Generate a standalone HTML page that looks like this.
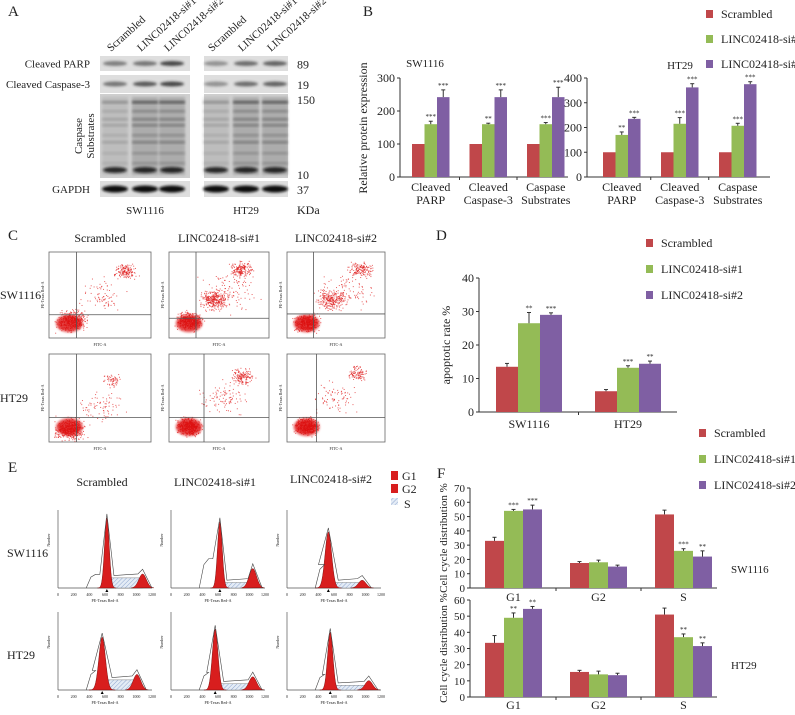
<!DOCTYPE html>
<html><head><meta charset="utf-8">
<style>
html,body{margin:0;padding:0;background:#fff;}
svg, svg text{font-family:"Liberation Serif","Times New Roman",serif;}
</style></head>
<body>
<svg id="fig" width="795" height="710" viewBox="0 0 795 710" xmlns="http://www.w3.org/2000/svg">
<defs>
<filter id="b1" x="-20%" y="-50%" width="140%" height="200%"><feGaussianBlur stdDeviation="1.2"/></filter>
<filter id="b2" x="-20%" y="-20%" width="140%" height="140%"><feGaussianBlur stdDeviation="3"/></filter>
<pattern id="hatch" width="3" height="3" patternUnits="userSpaceOnUse" patternTransform="rotate(45)"><rect width="3" height="3" fill="#e4ecf6"/><line x1="0" y1="0" x2="0" y2="3" stroke="#8fa6cf" stroke-width="1"/></pattern>
</defs>
<g id="layer"></g>
</svg>
<script>
// ---------- chart data ----------
const seriesNames = ["Scrambled","LINC02418-si#1","LINC02418-si#2"];
const colors = ["#c0474a","#94bb56","#7f5fa3"];

const bCats = [["Cleaved","PARP"],["Cleaved","Caspase-3"],["Caspase","Substrates"]];
const bSwScr = [100,100,100];
const bSwSi1 = [160,160,160];
const bSwSi2 = [242,242,242];
const bSwErr1 = [9,3,5];
const bSwErr2 = [22,22,30];
const bHtScr = [100,100,100];
const bHtSi1 = [170,215,207];
const bHtSi2 = [235,362,375];
const bHtErr1 = [12,25,10];
const bHtErr2 = [6,15,10];
const bSwTicks = [0,100,200,300];
const bHtTicks = [0,100,200,300,400];

const dCats = [["SW1116"],["HT29"]];
const dScr = [13.5,6.2];
const dSi1 = [26.5,13.2];
const dSi2 = [29.0,14.4];
const dErr0 = [1.0,0.5];
const dErr1 = [3.2,0.6];
const dErr2 = [0.6,0.8];
const dTicks = [0,10,20,30,40];

const fCats = [["G1"],["G2"],["S"]];
const fSwScr = [33,17.5,51.5];
const fSwSi1 = [54,18,26];
const fSwSi2 = [55,15,22];
const fSwErr = [[2.5,1,3],[1,1.5,1.5],[3,1,4]];
const fHtScr = [33.5,15.5,51];
const fHtSi1 = [49,14,37];
const fHtSi2 = [54.5,13.5,31.5];
const fHtErr = [[4.5,1,4],[3,2,2],[1.5,1.2,2]];
const fSwTicks = [0,10,20,30,40,50,60,70];
const fHtTicks = [0,10,20,30,40,50,60];

const NS="http://www.w3.org/2000/svg";
const L=document.getElementById('layer');
function el(tag,attrs,parent){const e=document.createElementNS(NS,tag);for(const k in attrs)e.setAttribute(k,attrs[k]);(parent||L).appendChild(e);return e;}
function txt(x,y,s,size,anchor,parent,extra){const t=el('text',Object.assign({x:x,y:y,'font-size':size,'text-anchor':anchor||'start',fill:'#222','font-family':'Liberation Serif, serif'},extra||{}),parent);t.textContent=s;return t;}

function barChart(o){
  const g=el('g',{});
  
  
  const yS=v=>o.base-(v/o.max)*(o.base-o.topY);
  el('line',{x1:o.x0,y1:o.topY,x2:o.x0,y2:o.base,stroke:'#333','stroke-width':1},g);
  el('line',{x1:o.x0,y1:o.base,x2:o.xEnd,y2:o.base,stroke:'#333','stroke-width':1},g);
  o.ticks.forEach(t=>{
    el('line',{x1:o.x0-3,y1:yS(t),x2:o.x0,y2:yS(t),stroke:'#333'},g);
    const tl=txt(o.x0-5,yS(t)+4,String(t),o.tickSize||12,'end',g);
    
    
  });
  o.series.forEach((vals,si)=>{
    vals.forEach((v,ci)=>{
      const x=o.first+ci*o.gap+si*o.barW;
      const r=el('rect',{x:x,y:yS(v),width:o.barW,height:o.base-yS(v),fill:colors[si]},g);
      
      
      const e=o.errs[si][ci];
      if(e){const cx=x+o.barW/2;
        el('line',{x1:cx,y1:yS(v),x2:cx,y2:yS(v+e),stroke:'#333'},g);
        el('line',{x1:cx-2,y1:yS(v+e),x2:cx+2,y2:yS(v+e),stroke:'#333'},g);
        if(si>0&&o.stars){txt(cx,yS(v+e)-2,o.stars[si-1][ci],7,'middle',g);}
      }
    });
  });
  o.cats.forEach((c,ci)=>{
    const cx=o.first+ci*o.gap+o.barW*1.5;
    if(ci>0) el('line',{x1:o.first+ci*o.gap-(o.gap-3*o.barW)/2,y1:o.base,x2:o.first+ci*o.gap-(o.gap-3*o.barW)/2,y2:o.base+3,stroke:'#333'},g);
    c.forEach((line,li)=>{const t=txt(cx,o.catY+li*13,line,o.catSize||12,'middle',g);
      });
  });
  return g;
}
function legend(x,y,gap,name){
  const g=el('g',{});
  
  
  seriesNames.forEach((n,i)=>{
    const r=el('rect',{x:x,y:y+i*gap-5,width:7,height:8,fill:colors[i]},g);
    
    const t=txt(x+15,y+i*gap+3,n,12,'start',g);
    
  });
}

// ---------- panel letters ----------
[["A",8,16],["B",363,16],["C",8,240],["D",436,240],["E",8,472],["F",437,478]].forEach(p=>{
  const t=txt(p[1],p[2],p[0],15,'start');});

// ---------- panel A: western blots ----------
(function(){
  const g=el('g',{});
  const blocks=[{x:100,w:90,lanes:[115,145,172]},{x:204,w:84,lanes:[216,246,275]}];
  const rows=[{y:56,h:15,name:'Cleaved PARP',kd:'89'},{y:75,h:18,name:'Cleaved Caspase-3',kd:'19'},{y:94,h:84,name:'',kd:''},{y:181,h:16,name:'GAPDH',kd:'37'}];
  const heads=['Scrambled','LINC02418-si#1','LINC02418-si#2'];
  blocks.forEach((b,bi)=>{
    b.lanes.forEach((lx,li)=>{const t=txt(lx-4,52,heads[li],11,'start',g,{transform:'rotate(-42 '+(lx-4)+' 52)'});
      });
    rows.forEach((r,ri)=>{
      el('rect',{x:b.x,y:r.y,width:b.w,height:r.h,fill:ri==2?'#cfcfcf':'#dedede'},g);
      const intens=[[0.5,0.55,0.8],[0.55,0.7,0.8],null,[1,1,1]];
      if(ri==0||ri==1){b.lanes.forEach((lx,li)=>{const k=bi==1?[0.4,0.6,0.65][li]:intens[ri][li];
        el('ellipse',{cx:lx,cy:r.y+r.h/2,rx:12,ry:2.5,fill:'#222',opacity:k,filter:'url(#b1)'},g);});}
      if(ri==3){b.lanes.forEach(lx=>el('ellipse',{cx:lx,cy:r.y+r.h/2,rx:13,ry:3.5,fill:'#111',filter:'url(#b1)'},g));}
      if(ri==2){
        b.lanes.forEach((lx,li)=>{
          const d=li==0?0.35:0.7;
          el('rect',{x:lx-13,y:r.y+3,width:26,height:r.h-6,fill:'#777',opacity:d*0.55,filter:'url(#b1)'},g);
          [[7,0.9],[16,0.4],[24,0.5],[30,0.5],[40,0.35],[47,0.5],[58,0.3],[68,0.3]].forEach(s=>
            el('rect',{x:lx-13,y:r.y+s[0],width:26,height:2.5,fill:'#222',opacity:s[1]*d,filter:'url(#b1)'},g));
          el('ellipse',{cx:lx,cy:r.y+76,rx:12,ry:3,fill:'#111',opacity:0.85,filter:'url(#b1)'},g);
        });
      }
      if(bi==0&&r.name){const t=txt(90,r.y+r.h/2+4,r.name,11,'end',g);}
      if(bi==1&&r.kd){const t=txt(297,r.y+r.h/2+5,r.kd,12,'start',g);}
    });
  });
  txt(297,104,'150',12,'start',g);txt(297,179,'10',12,'start',g);
  txt(82,136,'Caspase',11,'middle',g,{transform:'rotate(-90 82 136)'});
  txt(94,136,'Substrates',11,'middle',g,{transform:'rotate(-90 94 136)'});
  txt(145,214,'SW1116',11,'middle',g);txt(246,214,'HT29',11,'middle',g);txt(297,214,'KDa',12,'start',g);
})();

// ---------- panel B ----------
legend(706,15,25,'legend-b');
txt(367,128,'Relative protein expression',12,'middle',null,{transform:'rotate(-90 367 128)'});
txt(425,67,'SW1116',11,'middle');txt(680,69,'HT29',11,'middle');
barChart({name:'chart-b-sw1116',x0:400,xEnd:568,base:177,topY:78,max:300,ticks:bSwTicks,first:412,gap:57.5,barW:12.5,
  series:[bSwScr,bSwSi1,bSwSi2],errs:[[0,0,0],bSwErr1,bSwErr2],cats:bCats,catY:191,
  stars:[['***','**','***'],['***','***','***']]});
barChart({name:'chart-b-ht29',x0:587,xEnd:770,base:177,topY:78,max:400,ticks:bHtTicks,first:603,gap:58,barW:12.5,
  series:[bHtScr,bHtSi1,bHtSi2],errs:[[0,0,0],bHtErr1,bHtErr2],cats:bCats,catY:191,
  stars:[['**','***','***'],['***','***','***']]});

// ---------- panel C: flow cytometry ----------
(function(){
  let seed=7;function rnd(){seed=(seed*16807)%2147483647;return seed/2147483647;}
  function gauss(){return (rnd()+rnd()+rnd()-1.5)/1.5;}
  const cols=[{x:49,w:102,t:'Scrambled'},{x:169,w:100,t:'LINC02418-si#1'},{x:287,w:98,t:'LINC02418-si#2'}];
  const rowsY=[{y:252,h:86,n:'SW1116'},{y:354,h:88,n:'HT29'}];
  const clusters=[[[0.22,0.8,1.6,400],[0.75,0.22,1.2,150],[0.5,0.5,2.5,80]],
                  [[0.2,0.8,1.4,400],[0.45,0.55,1.6,300],[0.72,0.2,1.3,180],[0.6,0.45,3,100]],
                  [[0.2,0.82,1.4,400],[0.45,0.55,1.6,250],[0.75,0.2,1.3,150],[0.6,0.45,3,100]],
                  [[0.2,0.85,1.6,450],[0.62,0.3,1,60],[0.5,0.6,2.5,80]],
                  [[0.2,0.82,1.3,450],[0.73,0.25,1.2,150],[0.55,0.5,2.5,100]],
                  [[0.2,0.82,1.3,450],[0.72,0.22,1.1,100],[0.5,0.5,2.5,80]]];
  const qx=[0.27,0.27,0.27,0.27,0.35,0.3];const qy=[0.73,0.77,0.72,0.72,0.72,0.72];
  cols.forEach((c,ci)=>{const t=txt(c.x+c.w/2,242,c.t,12,'middle');});
  rowsY.forEach((r,ri)=>{
    const t=txt(0,r.y+r.h/2+4,r.n,12,'start');
    cols.forEach((c,ci)=>{
      const k=ri*3+ci;
      const g=el('g',{});
      el('rect',{x:c.x,y:r.y,width:c.w,height:r.h,fill:'#fff',stroke:'#666','stroke-width':0.8},g);
      clusters[k].forEach(cl=>{
        for(let i=0;i<cl[3];i++){
          const px=c.x+c.w*Math.min(0.99,Math.max(0.01,cl[0]+gauss()*0.12*cl[2]));
          const py=r.y+r.h*Math.min(0.99,Math.max(0.01,cl[1]-gauss()*0.1*cl[2]));
          el('rect',{x:px,y:py,width:1,height:1,fill:'#e02020',opacity:0.7},g);
        }
      });
      el('ellipse',{cx:c.x+c.w*0.2,cy:r.y+r.h*0.83,rx:c.w*0.13,ry:r.h*0.1,fill:'#dd1111',opacity:0.8,filter:'url(#b1)'},g);
      el('line',{x1:c.x+c.w*qx[k],y1:r.y,x2:c.x+c.w*qx[k],y2:r.y+r.h,stroke:'#555','stroke-width':0.8},g);
      el('line',{x1:c.x,y1:r.y+r.h*qy[k],x2:c.x+c.w,y2:r.y+r.h*qy[k],stroke:'#555','stroke-width':0.8},g);
      txt(c.x+c.w/2,r.y+r.h+8,'FITC-A',4,'middle',g);
      txt(c.x-5,r.y+r.h/2,'PE-Texas Red-A',4,'middle',g,{transform:'rotate(-90 '+(c.x-5)+' '+(r.y+r.h/2)+')'});
    });
  });
})();

// ---------- panel D ----------
legend(646,244,26,'legend-d');
txt(450,345,'apoptotic rate %',12,'middle',null,{transform:'rotate(-90 450 345)'});
barChart({name:'chart-d',x0:479,xEnd:677,base:412,topY:278,max:40,ticks:dTicks,first:496,gap:99,barW:22,
  series:[dScr,dSi1,dSi2],errs:[dErr0,dErr1,dErr2],cats:dCats,catY:428,
  stars:[['**','***'],['***','**']]});

// ---------- panel E: cell cycle histograms ----------
(function(){
  const cols=[{x:58,t:'Scrambled'},{x:171,t:'LINC02418-si#1'},{x:287,t:'LINC02418-si#2'}];
  const rowsY=[{y:510,n:'SW1116'},{y:612,n:'HT29'}];
  const prm=[[0.52,0.9,0.025,0.9,0.18,0.13,0.35],[0.52,0.85,0.025,0.87,0.25,0.07,0.75],[0.44,0.72,0.035,0.8,0.1,0.07,0.6],
             [0.47,0.68,0.035,0.84,0.2,0.13,0.5],[0.47,0.78,0.03,0.87,0.17,0.08,0.45],[0.46,0.74,0.028,0.87,0.12,0.06,0.4]];
  cols.forEach(c=>{const t=txt(c.x+44,c.x==287?483:486,c.t,12,'middle');});
  rowsY.forEach((r,ri)=>{
    const t=txt(7,r.y+47,r.n,12,'start');
    cols.forEach((c,ci)=>{
      const p=prm[ri*3+ci];const W=94,H=78,bx=c.x,by=r.y+H;
      const g=el('g',{});
      el('line',{x1:bx,y1:r.y,x2:bx,y2:by,stroke:'#555','stroke-width':0.7},g);
      el('line',{x1:bx,y1:by,x2:bx+W,y2:by,stroke:'#555','stroke-width':0.7},g);
      const X=f=>bx+f*W,Y=v=>by-v*H;
      el('path',{d:`M${X(p[0])} ${Y(0)} L${X(p[0]+0.02)} ${Y(p[5])} L${X(p[3]-0.03)} ${Y(p[5])} L${X(p[3])} ${Y(0)} Z`,fill:'url(#hatch)',stroke:'#666','stroke-width':0.4},g);
      let d=`M${X(p[0]-4*p[2])} ${Y(0)}`;for(let i=-4;i<=4;i+=0.25){d+=` L${X(p[0]+i*p[2])} ${Y(p[1]*Math.exp(-i*i/2))}`;}
      el('path',{d:d+' Z',fill:'#d81e1e',stroke:'#600','stroke-width':0.4},g);
      d=`M${X(p[3]-0.12)} ${Y(0)}`;for(let i=-3;i<=3;i+=0.25){d+=` L${X(p[3]+i*0.04)} ${Y(p[4]*Math.exp(-i*i/2))}`;}
      el('path',{d:d+' Z',fill:'#d81e1e',stroke:'#600','stroke-width':0.4},g);
      d=`M${X(0.3)} ${Y(0)} L${X(0.35)} ${Y(p[6]*0.4)} L${X(0.4)} ${Y(p[6]*0.5)} L${X(p[0]-3*p[2])} ${Y(p[6]*0.5)} L${X(p[0])} ${Y(p[1]+0.05)} L${X(p[0]+3*p[2])} ${Y(p[5]+0.03)} L${X(p[3]-0.05)} ${Y(p[5]+0.05)} L${X(p[3])} ${Y(p[4]+0.06)} L${X(p[3]+0.1)} ${Y(0)}`;
      el('path',{d:d,fill:'none',stroke:'#444','stroke-width':0.6},g);
      el('path',{d:`M${X(p[0])} ${by+1} l-1.5 3 l3 0 Z`,fill:'#000'},g);
      [0,200,400,600,800,1000,1200].forEach((v,i)=>txt(bx+i*W/6,by+8,String(v),4,'middle',g));
      txt(bx+W/2,by+14,'PE-Texas Red-A',4,'middle',g);
      txt(bx-8,r.y+30,'Number',4,'middle',g,{transform:'rotate(-90 '+(bx-8)+' '+(r.y+30)+')'});
    });
  });
  const lg=el('g',{});
  el('rect',{x:391,y:471,width:7,height:9,fill:'#d81e1e'},lg);txt(402,480,'G1',12,'start',lg);
  el('rect',{x:391,y:484,width:7,height:9,fill:'#d81e1e'},lg);txt(402,493,'G2',12,'start',lg);
  el('rect',{x:391,y:498,width:7,height:7,fill:'url(#hatch)'},lg);txt(404,508,'S',12,'start',lg);
})();

// ---------- panel F ----------
legend(699,434,26,'legend-f');
txt(447,538,'Cell cycle distribution %',11,'middle',null,{transform:'rotate(-90 447 538)'});
txt(447,648,'Cell cycle distribution %',11,'middle',null,{transform:'rotate(-90 447 648)'});
txt(731,573,'SW1116',11,'start');txt(731,669,'HT29',11,'start');
barChart({name:'chart-f-sw1116',x0:470,xEnd:717,base:588,topY:488,max:70,ticks:fSwTicks,first:485,gap:85,barW:19,
  series:[fSwScr,fSwSi1,fSwSi2],errs:fSwErr,cats:fCats,catY:601,tickSize:11,
  stars:[['***','','***'],['***','','**']]});
barChart({name:'chart-f-ht29',x0:470,xEnd:717,base:697,topY:600,max:60,ticks:fHtTicks,first:485,gap:85,barW:19,
  series:[fHtScr,fHtSi1,fHtSi2],errs:fHtErr,cats:fCats,catY:709,tickSize:11,
  stars:[['**','','**'],['**','','**']]});
</script>
</body></html>
